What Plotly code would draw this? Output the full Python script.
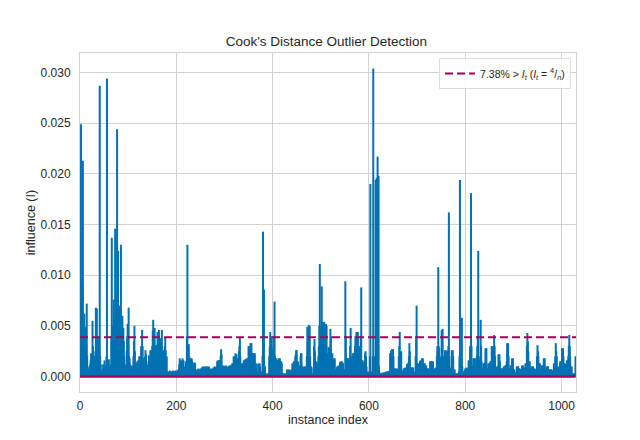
import plotly.graph_objects as go

# Cook's distance per instance, in units of 1e-4
influence_1e4 = [
    30, 60, 249, 20, 40, 90, 213, 30, 25, 62,
    20, 49, 15, 30, 72, 20, 10, 7, 6, 8,
    7, 12, 16, 23, 15, 20, 55, 30, 15, 12,
    10, 20, 25, 68, 30, 67, 20, 20, 39, 15,
    26, 287, 20, 12, 5, 4, 6, 5, 12, 8,
    12, 16, 7, 10, 8, 20, 294, 17, 8, 5,
    17, 6, 10, 8, 12, 40, 137, 50, 30, 45,
    76, 40, 55, 146, 35, 50, 80, 244, 60, 124,
    45, 70, 55, 60, 40, 130, 35, 50, 60, 30,
    48, 35, 20, 10, 8, 12, 9, 25, 40, 52,
    30, 68, 20, 18, 12, 10, 9, 11, 8, 10,
    9, 20, 35, 50, 25, 13, 10, 13, 12, 15,
    14, 16, 12, 20, 18, 15, 20, 30, 25, 46,
    30, 18, 15, 18, 12, 20, 26, 22, 15, 12,
    10, 8, 10, 21, 15, 18, 26, 20, 22, 26,
    30, 45, 56, 40, 35, 48, 30, 25, 31, 20,
    30, 44, 25, 30, 46, 35, 20, 38, 25, 30,
    46, 25, 20, 25, 26, 20, 30, 38, 26, 18,
    20, 5, 4, 5, 4, 5, 4, 6, 4, 5,
    4, 5, 4, 6, 5, 4, 5, 4, 6, 5,
    5, 4, 6, 5, 7, 7, 12, 18, 10, 16,
    10, 14, 16, 18, 12, 16, 8, 8, 10, 8,
    15, 12, 40, 130, 20, 12, 32, 20, 16, 14,
    18, 16, 18, 15, 12, 13, 13, 12, 14, 13,
    3, 4, 3, 7, 6, 7, 8, 7, 6, 7,
    7, 8, 6, 9, 8, 10, 9, 8, 10, 9,
    8, 10, 9, 8, 10, 9, 8, 9, 10, 8,
    7, 6, 7, 8, 7, 6, 7, 9, 8, 9,
    10, 9, 8, 9, 10, 15, 16, 14, 16, 15,
    16, 14, 20, 27, 22, 10, 9, 10, 11, 9,
    10, 9, 10, 11, 9, 10, 7, 6, 7, 10,
    11, 10, 11, 9, 11, 10, 13, 12, 13, 20,
    18, 20, 19, 23, 20, 22, 18, 17, 18, 16,
    25, 30, 39, 20, 13, 12, 13, 11, 13, 12,
    16, 14, 16, 17, 16, 17, 18, 16, 18, 17,
    30, 25, 30, 28, 33, 30, 33, 23, 20, 23,
    22, 23, 20, 23, 13, 12, 13, 12, 4, 3,
    4, 13, 12, 13, 10, 3, 3, 4, 5, 20,
    143, 20, 86, 11, 10, 2, 3, 2, 3, 2,
    3, 3, 3, 20, 30, 44, 40, 38, 40, 26,
    26, 20, 30, 40, 74, 20, 18, 17, 18, 16,
    16, 15, 16, 18, 17, 18, 15, 14, 15, 13,
    3, 3, 2, 3, 3, 2, 3, 3, 2, 3,
    7, 6, 7, 5, 6, 7, 6, 5, 6, 6,
    7, 13, 12, 13, 15, 14, 15, 20, 22, 26,
    26, 15, 14, 15, 10, 9, 10, 11, 20, 23,
    23, 10, 9, 10, 8, 7, 8, 10, 9, 10,
    10, 20, 49, 30, 35, 51, 40, 50, 20, 10,
    10, 9, 3, 3, 2, 3, 30, 37, 25, 15,
    15, 14, 13, 12, 13, 20, 30, 50, 111, 40,
    30, 50, 89, 40, 54, 45, 50, 54, 40, 30,
    40, 52, 50, 23, 20, 23, 29, 25, 29, 20,
    47, 40, 23, 20, 23, 18, 17, 18, 16, 18,
    7, 6, 7, 8, 10, 9, 10, 11, 10, 9,
    14, 15, 13, 14, 15, 14, 13, 7, 6, 7,
    7, 94, 40, 18, 17, 18, 16, 18, 17, 18,
    16, 30, 48, 20, 13, 12, 13, 23, 20, 23,
    20, 30, 40, 38, 44, 30, 40, 44, 30, 28,
    30, 25, 20, 40, 88, 16, 15, 16, 14, 11,
    10, 11, 23, 25, 20, 10, 4, 5, 3, 4,
    4, 5, 20, 190, 5, 4, 5, 4, 20, 304,
    20, 5, 4, 20, 194, 30, 196, 30, 217, 40,
    198, 10, 4, 3, 3, 2, 3, 3, 4, 3,
    3, 4, 4, 3, 4, 5, 4, 3, 5, 5,
    5, 4, 5, 6, 23, 20, 26, 20, 27, 26,
    27, 20, 8, 7, 8, 7, 8, 7, 6, 7,
    8, 7, 20, 30, 44, 25, 20, 25, 5, 5,
    5, 6, 8, 7, 8, 9, 8, 7, 8, 12,
    13, 12, 13, 20, 33, 25, 8, 9, 8, 9,
    9, 8, 9, 4, 3, 4, 5, 20, 40, 70,
    13, 12, 13, 11, 12, 11, 15, 16, 15, 16,
    18, 17, 18, 13, 12, 13, 13, 11, 10, 11,
    8, 7, 8, 8, 3, 4, 3, 15, 14, 15,
    15, 15, 14, 15, 7, 6, 7, 8, 8, 9,
    8, 20, 30, 25, 108, 30, 28, 18, 17, 18,
    20, 46, 30, 47, 20, 10, 9, 10, 26, 25,
    26, 24, 25, 24, 25, 30, 162, 20, 8, 7,
    8, 9, 26, 25, 26, 20, 7, 6, 7, 3,
    3, 2, 3, 3, 2, 3, 3, 5, 20, 194,
    3, 4, 20, 58, 10, 5, 4, 5, 5, 6,
    8, 7, 8, 9, 8, 7, 8, 16, 15, 16,
    30, 20, 181, 30, 11, 10, 11, 18, 17, 18,
    18, 8, 7, 8, 20, 30, 40, 124, 20, 16,
    15, 16, 56, 30, 15, 8, 7, 8, 13, 12,
    13, 14, 28, 25, 28, 8, 7, 8, 13, 12,
    13, 13, 15, 14, 15, 30, 28, 30, 25, 30,
    41, 30, 20, 8, 7, 8, 10, 9, 10, 22,
    20, 22, 15, 8, 7, 8, 8, 7, 8, 7,
    10, 9, 10, 11, 10, 11, 15, 33, 25, 33,
    20, 8, 7, 8, 11, 10, 11, 18, 17, 18,
    7, 6, 7, 4, 3, 4, 4, 10, 9, 10,
    10, 8, 7, 8, 7, 6, 7, 7, 11, 10,
    11, 8, 7, 8, 9, 13, 12, 13, 30, 43,
    35, 25, 15, 14, 15, 8, 7, 8, 10, 9,
    10, 10, 8, 7, 8, 7, 6, 7, 7, 20,
    31, 25, 20, 13, 12, 13, 5, 4, 5, 11,
    10, 11, 11, 18, 17, 18, 8, 7, 8, 10,
    9, 10, 10, 7, 6, 7, 7, 6, 7, 7,
    6, 5, 6, 6, 13, 12, 13, 20, 33, 25,
    20, 10, 9, 10, 8, 7, 8, 15, 14, 15,
    15, 28, 25, 28, 20, 13, 12, 13, 10, 9,
    10, 16, 15, 16, 20, 30, 41, 30, 20, 10,
    9, 10, 3, 2, 3, 3, 2, 3, 3, 20,
]
influence = [v * 1e-4 for v in influence_1e4]
n = len(influence)
threshold = 4 / n
outlier_pct_label = "7.38%"

y_ticks = [0.000, 0.005, 0.010, 0.015, 0.020, 0.025, 0.030]
x_ticks = [0, 200, 400, 600, 800, 1000]

STEM = "#0072B2"
BASE = "#A8005A"
GRID = "#d2d2d2"
FONT = "Liberation Sans, Arial, sans-serif"
TXT = "#262626"

xs, ys = [], []
for i, v in enumerate(influence):
    xs += [i, i, None]
    ys += [0, v, None]

fig = go.Figure()
fig.add_trace(go.Scatter(
    x=xs, y=ys, mode="lines",
    line=dict(color=STEM, width=2),
    showlegend=False, hoverinfo="skip",
))
fig.add_trace(go.Scatter(
    x=[0, n - 1], y=[0, 0], mode="lines",
    line=dict(color=BASE, width=2.2),
    showlegend=False, hoverinfo="skip",
))
fig.add_trace(go.Scatter(
    x=[0, n], y=[threshold, threshold], mode="lines",
    line=dict(color=BASE, width=2, dash="8px,4px"),
    name=outlier_pct_label + " &gt; <i>I<sub>t</sub></i> (<i>I<sub>t</sub></i> = <sup>4</sup>/<sub><i>n</i></sub>)",
    showlegend=True,
))

fig.update_layout(
    width=640, height=440,
    margin=dict(l=80, r=64, t=52.8, b=48.4),
    paper_bgcolor="white", plot_bgcolor="white",
    font=dict(family=FONT, size=12, color=TXT),
    title=dict(text="Cook's Distance Outlier Detection", x=0.51, xanchor="center",
               y=1 - 41 / 440, yanchor="middle", font=dict(size=13.5, color=TXT)),
    legend=dict(x=0.99, y=0.985, xanchor="right", yanchor="top",
                bgcolor="rgba(255,255,255,0.85)", bordercolor="#dddddd", borderwidth=1,
                font=dict(size=10.5, color=TXT), itemwidth=30),
    showlegend=True,
)
fig.update_xaxes(
    range=[0, n], tickvals=x_ticks, ticks="", ticklabelstandoff=3,
    showgrid=True, gridcolor=GRID, gridwidth=1, zeroline=False,
    showline=True, linecolor=GRID, linewidth=1, mirror=True,
    title=dict(text="instance index", font=dict(size=12.5), standoff=1),
)
fig.update_yaxes(
    range=[-0.00152, 0.03192], tickvals=y_ticks, tickformat=".3f", ticks="",
    ticklabelstandoff=6,
    showgrid=True, gridcolor=GRID, gridwidth=1, zeroline=False,
    showline=True, linecolor=GRID, linewidth=1, mirror=True,
    title=dict(text="influence (I)", font=dict(size=12.5), standoff=2),
)

fig.write_html("out.html")
